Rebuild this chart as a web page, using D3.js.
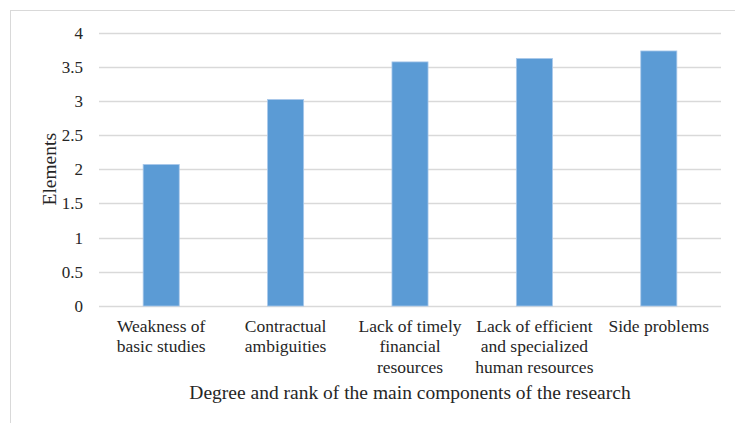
<!DOCTYPE html>
<html>
<head>
<meta charset="utf-8">
<script src="https://cdn.jsdelivr.net/npm/d3@7"></script>
<style>
  body { margin: 0; background: #fff; }
  svg text { font-family: "Liberation Serif", "DejaVu Serif", serif; fill: #262626; }
</style>
</head>
<body>
<script>
// values
const categories = ["Weakness of basic studies", "Contractual ambiguities", "Lack of timely financial resources",
  "Lack of efficient and specialized human resources", "Side problems"];
const categoryLines = [
  ["Weakness of", "basic studies"],
  ["Contractual", "ambiguities"],
  ["Lack of timely", "financial", "resources"],
  ["Lack of efficient", "and specialized", "human resources"],
  ["Side problems"]
];
const values = [2.07, 3.02, 3.57, 3.62, 3.73];
const yTicks = [0, 0.5, 1, 1.5, 2, 2.5, 3, 3.5, 4];
const yTitle = "Elements";
const xTitle = "Degree and rank of the main components of the research";

const w = 735, h = 423;
const plotLeft = 99, plotRight = 721, plotTop = 32.5, plotBottom = 306;

const svg = d3.select("body").append("svg")
  .attr("width", w)
  .attr("height", h);

// chart frame
svg.append("rect")
  .attr("x", 10.5).attr("y", 10.5)
  .attr("width", w + 20).attr("height", h + 20)
  .attr("fill", "none")
  .attr("stroke", "#d9d9d9");

const x = d3.scaleBand()
  .domain(categories)
  .range([plotLeft, plotRight])
  .paddingInner(0.71)
  .paddingOuter(0.355);

const y = d3.scaleLinear()
  .domain([0, 4])
  .range([plotBottom, plotTop]);

// gridlines
svg.append("g")
  .selectAll("line")
  .data(yTicks)
  .enter()
  .append("line")
  .attr("x1", plotLeft).attr("x2", plotRight)
  .attr("y1", d => Math.round(y(d)) + 0.5)
  .attr("y2", d => Math.round(y(d)) + 0.5)
  .attr("stroke", "#d9d9d9")
  .attr("stroke-width", 1.3);

// y tick labels
svg.append("g")
  .selectAll("text")
  .data(yTicks)
  .enter()
  .append("text")
  .attr("x", 83)
  .attr("y", d => y(d) + 6)
  .attr("text-anchor", "end")
  .style("font-size", "17px")
  .text(d => d);

// bars
svg.append("g")
  .selectAll("rect")
  .data(values)
  .enter()
  .append("rect")
  .attr("x", (d, i) => x(categories[i]))
  .attr("y", d => y(d))
  .attr("width", x.bandwidth())
  .attr("height", d => plotBottom - y(d))
  .attr("fill", "#5b9bd5")
  .attr("stroke", "#a9c8ea")
  .attr("stroke-width", 0.8);

// category labels
const cat = svg.append("g")
  .selectAll("text")
  .data(categoryLines)
  .enter()
  .append("text")
  .attr("text-anchor", "middle")
  .style("font-size", "17.5px")
  .attr("transform", (d, i) => `translate(${x(categories[i]) + x.bandwidth() / 2},332)`);

cat.selectAll("tspan")
  .data(d => d)
  .enter()
  .append("tspan")
  .attr("x", 0)
  .attr("y", (d, i) => i * 20.3)
  .text(d => d);

// axis titles
svg.append("text")
  .attr("x", (plotLeft + plotRight) / 2)
  .attr("y", 399)
  .attr("text-anchor", "middle")
  .style("font-size", "19.5px")
  .text(xTitle);

svg.append("text")
  .attr("transform", `translate(56,${(plotTop + plotBottom) / 2}) rotate(-90)`)
  .attr("text-anchor", "middle")
  .style("font-size", "19.5px")
  .text(yTitle);
</script>
</body>
</html>
